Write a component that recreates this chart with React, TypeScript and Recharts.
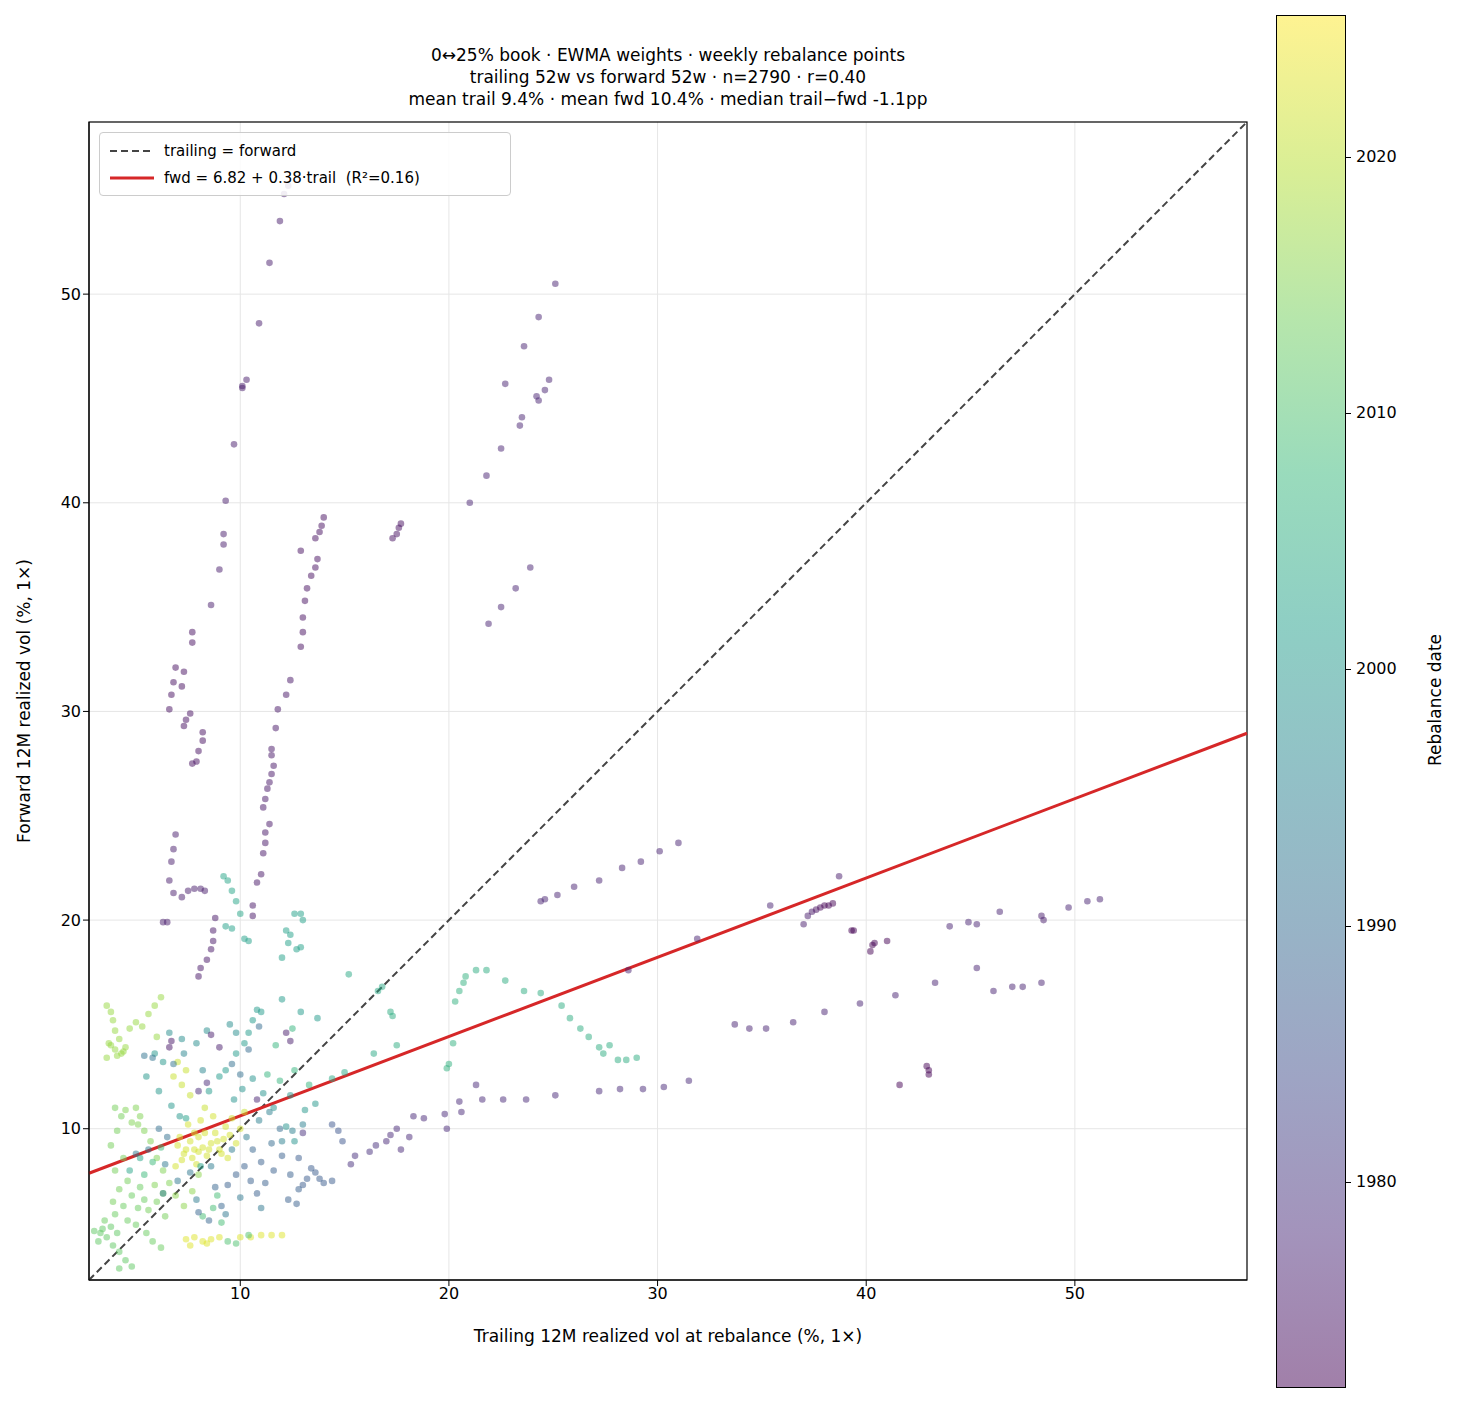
import React from "react";
import {
  ScatterChart,
  Scatter,
  XAxis,
  YAxis,
  CartesianGrid,
  ReferenceLine,
  Label,
} from "recharts";

// [trailing vol, forward vol, rebalance year]
const purpleStreaks: number[][] = [
  [6.3,19.9,1976],[6.5,19.9,1976],[6.6,21.9,1976],[6.7,22.8,1976],[6.8,23.4,1976],[6.9,24.1,1976],[6.8,21.3,1976],
  [6.6,30.1,1974],[6.7,30.8,1974],[6.8,31.4,1974],[6.9,32.1,1974],[7.2,31.2,1974],[7.3,31.9,1974],[7.4,29.6,1974],
  [7.3,29.3,1974],[7.6,29.9,1974],[7.7,33.3,1974],[7.7,33.8,1974],[7.2,21.1,1976],[7.5,21.4,1976],[7.8,21.5,1976],
  [8.1,21.5,1976],[8.3,21.4,1976],[7.9,27.6,1974],[7.7,27.5,1974],[8.0,28.1,1974],[8.2,28.6,1974],[8.2,29.0,1974],
  [8.0,17.3,1975],[8.1,17.7,1975],[8.4,18.1,1975],[8.6,18.6,1975],[8.7,19.0,1975],[8.7,19.5,1975],[8.8,20.1,1975],
  [8.6,35.1,1976],[9.0,36.8,1976],[9.2,38.0,1976],[9.2,38.5,1976],[9.3,40.1,1976],[9.7,42.8,1976],[10.1,45.6,1976],
  [10.3,45.9,1976],[10.1,45.5,1976],[10.9,48.6,1976],[11.4,51.5,1976],[11.9,53.5,1976],[12.1,54.8,1976],[12.3,55.2,1976],
  [10.6,20.2,1975],[10.6,20.7,1975],[10.8,21.8,1975],[11.0,22.2,1975],[11.1,23.2,1975],[11.2,23.7,1975],[11.2,24.2,1975],
  [11.4,24.6,1975],[11.1,25.4,1975],[11.2,25.8,1975],[11.3,26.3,1975],[11.4,26.6,1975],[11.5,27.0,1975],[11.6,27.4,1975],
  [11.5,27.9,1975],[11.5,28.2,1975],[11.7,29.2,1975],[11.8,30.1,1975],[12.2,30.8,1975],[12.4,31.5,1975],[12.9,33.1,1974],
  [13.0,33.8,1974],[13.0,34.5,1974],[13.1,35.3,1974],[13.2,35.9,1974],[13.4,36.5,1974],[13.6,36.9,1974],[13.7,37.3,1974],
  [12.9,37.7,1974],[13.6,38.3,1974],[13.8,38.6,1974],[13.9,38.9,1974],[14.0,39.3,1974],[17.3,38.3,1974],[17.5,38.5,1974],
  [17.6,38.8,1974],[17.7,39.0,1974],
];

const upperRight: number[][] = [
  [21.0,40.0,1977],[21.8,41.3,1977],[22.5,42.6,1977],[22.7,45.7,1977],[23.4,43.7,1977],[23.5,44.1,1977],[23.6,47.5,1977],
  [24.2,45.1,1977],[24.3,44.9,1977],[24.3,48.9,1977],[24.6,45.4,1977],[24.8,45.9,1977],[25.1,50.5,1977],[21.9,34.2,1977],
  [22.5,35.0,1977],[23.2,35.9,1977],[23.9,36.9,1977],[24.4,20.9,1977],[24.6,21.0,1977],[25.2,21.2,1977],[26.0,21.6,1977],
  [27.2,21.9,1977],[28.3,22.5,1977],[29.2,22.8,1977],[30.1,23.3,1977],[31.0,23.7,1977],[31.9,19.1,1977],[28.6,17.6,1977],
];

const rightCluster: number[][] = [
  [35.4,20.7,1977],[37.0,19.8,1976],[37.2,20.2,1976],[37.4,20.4,1975],[37.6,20.5,1974],[37.8,20.6,1973],[38.0,20.7,1972],
  [38.2,20.7,1972],[38.4,20.8,1972],[38.7,22.1,1976],[39.3,19.5,1972],[39.4,19.5,1972],[40.2,18.5,1972],[40.3,18.8,1972],
  [40.4,18.9,1972],[41.0,19.0,1972],[39.7,16.0,1977],[41.4,16.4,1977],[43.3,17.0,1977],[44.0,19.7,1977],[44.9,19.9,1977],
  [45.3,19.8,1977],[45.3,17.7,1977],[46.4,20.4,1977],[46.1,16.6,1977],[47.0,16.8,1977],[47.5,16.8,1977],[48.4,17.0,1977],
  [48.4,20.2,1976],[48.5,20.0,1976],[49.7,20.6,1977],[50.6,20.9,1977],[51.2,21.0,1977],[33.7,15.0,1977],[34.4,14.8,1977],
  [35.2,14.8,1977],[36.5,15.1,1977],[38.0,15.6,1977],[41.6,12.1,1972],[42.9,13.0,1972],[43.0,12.8,1972],[43.0,12.6,1972],
];

const lowerMid: number[][] = [
  [17.0,9.4,1978],[17.2,9.7,1978],[17.5,10.0,1978],[17.7,9.0,1978],[18.1,9.6,1978],[18.3,10.6,1978],[18.8,10.5,1978],
  [19.8,10.7,1978],[19.9,10.0,1978],[20.5,11.3,1978],[20.6,10.8,1978],[21.3,12.1,1978],[21.6,11.4,1978],[22.6,11.4,1978],
  [23.7,11.4,1978],[25.1,11.6,1978],[27.2,11.8,1978],[28.2,11.9,1978],[29.3,11.9,1978],[30.3,12.0,1978],[31.5,12.3,1978],
  [16.2,8.9,1979],[16.5,9.2,1979],[15.3,8.3,1979],[15.5,8.7,1979],
];

const tealStreaks: number[][] = [
  [15.2,17.4,2004],[16.6,16.6,2004],[16.8,16.8,2004],[17.2,15.6,2005],[17.3,15.4,2005],[17.5,14.0,2005],[19.9,12.9,2006],
  [20.0,13.1,2006],[20.2,14.1,2006],[20.3,16.1,2006],[20.5,16.6,2006],[20.7,17.0,2006],[20.8,17.3,2006],[21.3,17.6,2005],
  [21.8,17.6,2005],[22.7,17.1,2005],[23.6,16.6,2005],[24.4,16.5,2005],[25.4,15.9,2005],[25.8,15.3,2005],[26.3,14.8,2005],
  [26.7,14.4,2005],[27.2,13.9,2005],[27.4,13.6,2005],[27.7,14.0,2005],[28.1,13.3,2005],[28.5,13.3,2005],[29.0,13.4,2005],
  [16.4,13.6,2004],[15.0,12.7,2004],[14.4,12.4,2004],
  [9.2,22.1,2003],[9.4,21.9,2003],[9.6,21.4,2003],[9.8,20.9,2003],[10.0,20.3,2003],[9.3,19.7,2002],[9.6,19.6,2002],
  [10.2,19.1,2002],[10.4,19.0,2002],[12.0,18.2,2002],[12.3,18.9,2002],[12.4,19.3,2002],[12.6,20.3,2002],[12.9,20.3,2002],
  [12.7,18.6,2002],[12.9,18.7,2002],[12.2,19.5,2002],[13.0,20.0,2002],
];

const denseCluster: number[][] = [
  // yellow, recent
  [7.0,9.2,2022],[7.3,8.8,2022],[7.6,9.4,2022],[7.8,9.0,2022],[8.0,9.6,2022],[8.2,9.1,2022],[8.4,8.7,2022],[8.6,9.3,2022],
  [8.8,9.8,2022],[9.0,9.0,2022],[9.2,9.5,2022],[9.4,8.6,2022],[7.5,10.2,2022],[8.1,10.4,2022],[8.7,10.6,2022],[9.3,10.1,2022],
  [9.8,9.3,2022],[10.0,10.0,2022],[7.2,12.1,2021],[7.4,12.8,2021],[7.0,13.2,2021],[6.8,12.5,2021],[7.6,11.6,2021],
  [8.3,11.0,2021],[6.9,8.2,2022],[7.9,8.3,2022],[7.1,9.6,2022],[7.4,9.0,2022],[7.7,8.6,2022],[8.3,9.8,2022],[8.5,9.0,2022],
  [8.9,9.4,2022],[9.1,8.8,2022],[9.5,9.7,2022],[7.8,9.8,2022],[8.0,8.9,2022],[7.2,8.5,2022],[9.6,10.5,2021],[10.2,10.8,2021],
  [7.4,4.7,2023],[7.8,4.8,2023],[8.2,4.6,2023],[8.6,4.7,2023],[9.0,4.8,2023],[10.0,4.8,2023],[10.5,4.8,2023],[11.0,4.9,2023],
  [11.5,4.9,2023],[12.0,4.9,2023],[7.6,4.4,2023],[8.4,4.5,2023],
  // yellow-green
  [3.6,15.9,2017],[3.8,15.6,2017],[3.9,15.2,2017],[4.0,14.7,2017],[4.2,14.3,2017],[3.7,14.1,2017],[4.0,13.8,2017],
  [4.3,13.6,2017],[4.5,13.9,2017],[4.7,14.8,2017],[5.0,15.1,2017],[5.3,14.9,2017],[5.6,15.5,2017],[5.9,15.9,2017],
  [6.2,16.3,2017],[6.0,14.4,2017],[3.6,13.4,2017],[3.8,14.0,2017],[4.1,13.5,2017],[4.4,13.7,2017],
  // light green
  [3.0,5.1,2012],[3.3,5.0,2012],[3.6,4.8,2012],[3.9,4.4,2012],[4.2,4.1,2012],[4.5,3.7,2012],[4.8,3.4,2012],[4.2,3.3,2012],
  [3.5,5.6,2013],[4.0,5.9,2013],[4.4,6.3,2013],[4.8,6.8,2013],[5.2,7.2,2013],[5.0,5.4,2013],[5.5,5.0,2013],[5.8,4.6,2013],
  [6.2,4.3,2013],[4.6,7.5,2014],[4.0,8.0,2014],[4.4,8.6,2014],[3.8,9.2,2014],[4.1,9.9,2014],[4.3,10.6,2014],[4.0,11.0,2014],
  [4.8,10.3,2015],[5.0,11.0,2015],[5.2,10.6,2015],[5.4,9.9,2015],[5.7,9.4,2015],[6.0,8.6,2015],[6.3,8.0,2015],[6.6,7.4,2015],
  [6.9,6.8,2016],[7.3,6.3,2016],[7.7,7.0,2016],[8.0,7.8,2016],[5.6,6.1,2014],[6.0,6.5,2014],[6.4,5.8,2014],[3.2,4.6,2012],
  [3.4,5.2,2012],[3.8,5.3,2012],[4.1,5.0,2012],[4.6,5.6,2013],[5.1,6.2,2013],[5.4,6.6,2013],[4.5,10.9,2015],[5.1,10.2,2015],
  [4.2,7.1,2014],[3.9,6.5,2014],[5.9,7.3,2015],[6.3,6.9,2015],
  // green
  [8.2,5.8,2009],[8.7,6.2,2009],[9.1,5.5,2009],[9.4,4.6,2010],[9.8,4.5,2010],[10.4,4.9,2010],[8.9,6.8,2009],[5.4,7.8,2008],
  [5.8,8.4,2008],[6.2,9.1,2008],[11.3,12.6,2007],[11.9,12.3,2007],[12.6,12.8,2007],[13.3,12.1,2007],[11.7,14.0,2007],
  [12.5,14.8,2007],
  // teal
  [5.9,13.6,2000],[6.3,13.2,2000],[5.5,12.5,2000],[6.1,11.8,2000],[6.7,11.1,2000],[7.1,10.6,2000],[8.5,11.8,2001],
  [9.0,12.5,2001],[9.3,12.8,2001],[9.8,13.6,2001],[10.2,14.1,2001],[10.4,14.6,2001],[10.6,15.2,2001],[10.8,15.7,2001],
  [11.0,15.6,2001],[12.0,16.2,2001],[12.9,15.6,2001],[13.7,15.3,2001],[9.7,11.4,1999],[10.1,11.9,1999],[10.6,12.4,1999],
  [11.1,11.7,1999],[11.6,11.0,1999],[12.2,10.1,1999],[12.6,9.4,1999],[5.2,8.6,2003],[4.7,8.0,2003],[6.6,14.6,1998],
  [7.2,14.3,1998],[7.9,14.1,1998],[8.4,14.7,1998],[9.5,15.0,1998],[9.8,14.6,1998],[7.4,10.5,2002],[8.1,8.2,2002],
  [12.4,11.6,2000],[13.1,10.9,2000],[13.6,11.2,2000],
  // dark blue
  [9.4,7.3,1988],[9.8,7.8,1988],[10.2,8.2,1988],[10.5,7.5,1988],[10.8,6.9,1988],[11.2,7.4,1988],[11.6,8.0,1988],
  [12.0,8.7,1988],[12.4,7.8,1988],[12.8,7.1,1988],[13.2,7.6,1987],[13.6,7.9,1987],[14.0,7.4,1987],[14.4,7.5,1987],
  [14.4,10.2,1986],[14.7,9.9,1986],[14.9,9.4,1986],[8.8,7.2,1989],[9.1,6.3,1989],[8.5,5.6,1989],[8.0,6.0,1989],
  [12.3,6.6,1988],[12.7,6.4,1988],[11.5,9.3,1990],[11.9,10.0,1990],[10.0,12.6,1991],[9.6,13.1,1991],[5.8,13.4,1992],
  [5.4,13.5,1992],[6.8,13.1,1992],[6.1,10.0,1991],[6.5,9.6,1991],[10.4,13.8,1990],[10.9,14.9,1990],[12.8,8.6,1987],
  [13.4,8.1,1987],[13.0,7.3,1987],[13.8,7.6,1987],[11.0,8.4,1988],[10.6,9.0,1989],
  // blue
  [5.0,8.8,1993],[5.6,9.0,1993],[6.4,8.3,1993],[7.0,7.5,1993],[7.6,7.9,1993],[8.6,8.2,1994],[9.6,9.0,1994],[10.3,9.6,1994],
  [10.9,10.4,1995],[11.4,10.8,1995],[12.0,9.4,1995],[12.5,9.9,1995],[13.0,10.2,1995],[7.3,13.6,1996],[8.2,12.8,1996],
  [6.3,6.9,1994],[7.9,6.6,1994],[9.3,5.9,1993],[10.0,6.7,1993],[11.0,6.2,1993],
  // purple in cluster
  [6.6,13.9,1975],[6.7,14.2,1975],[8.6,14.5,1976],[9.0,13.9,1976],[10.8,11.4,1977],[12.2,14.6,1976],[12.4,14.2,1976],
  [13.0,9.8,1979],[8.0,11.8,1978],[8.4,12.2,1978],
];

const allPoints = [...purpleStreaks, ...upperRight, ...rightCluster, ...lowerMid, ...tealStreaks, ...denseCluster].map(
  ([x, y, year]) => ({ x, y, year })
);

const axisTicks = [10, 20, 30, 40, 50];
const yearTicks = [1980, 1990, 2000, 2010, 2020];
const titleLines = [
  "0↔25% book · EWMA weights · weekly rebalance points",
  "trailing 52w vs forward 52w · n=2790 · r=0.40",
  "mean trail 9.4% · mean fwd 10.4% · median trail−fwd -1.1pp",
];

const DOMAIN: [number, number] = [2.75, 58.25];
const YEAR_MIN = 1972.04;
const YEAR_MAX = 2025.54;
const fitA = 6.82;
const fitB = 0.38;

const VIRIDIS = [
  [68, 1, 84], [72, 40, 120], [62, 73, 137], [49, 104, 142], [38, 130, 142],
  [31, 158, 137], [53, 183, 121], [109, 205, 89], [180, 222, 44], [253, 231, 37],
];

function viridis(t: number) {
  const c = Math.max(0, Math.min(1, t)) * (VIRIDIS.length - 1);
  const i = Math.min(VIRIDIS.length - 2, Math.floor(c));
  const f = c - i;
  const a = VIRIDIS[i];
  const b = VIRIDIS[i + 1];
  return `rgb(${a.map((v, k) => Math.round(v + (b[k] - v) * f)).join(",")})`;
}

const yearColor = (year: number) => viridis((year - YEAR_MIN) / (YEAR_MAX - YEAR_MIN));

const Dot = (props: any) => {
  const { cx, cy, payload } = props;
  return <circle cx={cx} cy={cy} r={3.3} fill={yearColor(payload.year)} fillOpacity={0.5} />;
};

const font = "DejaVu Sans, sans-serif";

export default function App() {
  const cbTop = 15;
  const cbHeight = 1371;
  const gradient = `linear-gradient(to top, ${VIRIDIS.map((c, i) => `rgba(${c.join(",")},0.5) ${(i / (VIRIDIS.length - 1)) * 100}%`).join(", ")})`;
  return (
    <div style={{ position: "absolute", left: 0, top: 0, width: 1462, height: 1403, background: "#fff", fontFamily: font }}>
      <div style={{ position: "absolute", left: 89, width: 1158, top: 44, textAlign: "center", fontSize: 17, lineHeight: "22px", color: "#000" }}>
        {titleLines.map((l) => (
          <div key={l}>{l}</div>
        ))}
      </div>
      <ScatterChart width={1262} height={1403} margin={{ top: 122, right: 15, left: 39, bottom: 83 }}>
        <CartesianGrid stroke="#e6e6e6" horizontalValues={axisTicks} verticalValues={axisTicks} />
        <XAxis
          type="number"
          dataKey="x"
          domain={DOMAIN}
          ticks={axisTicks}
          allowDataOverflow
          height={40}
          tick={{ fontSize: 16, fill: "#000", fontFamily: font }}
          tickSize={6}
          stroke="#000"
        >
          <Label value="Trailing 12M realized vol at rebalance (%, 1×)" position="insideBottom" offset={-22} style={{ fontSize: 17, fill: "#000", fontFamily: font }} />
        </XAxis>
        <YAxis
          type="number"
          dataKey="y"
          domain={DOMAIN}
          ticks={axisTicks}
          allowDataOverflow
          width={50}
          tick={{ fontSize: 16, fill: "#000", fontFamily: font }}
          tickSize={6}
          stroke="#000"
        />
        <Scatter data={allPoints} shape={Dot} isAnimationActive={false} />
        <ReferenceLine
          segment={[{ x: DOMAIN[0], y: DOMAIN[0] }, { x: DOMAIN[1], y: DOMAIN[1] }]}
          stroke="#444"
          strokeWidth={2}
          strokeDasharray="7 4"
        />
        <ReferenceLine
          segment={[{ x: DOMAIN[0], y: fitA + fitB * DOMAIN[0] }, { x: DOMAIN[1], y: fitA + fitB * DOMAIN[1] }]}
          stroke="#d62728"
          strokeWidth={3}
        />
        <rect x={89} y={122} width={1158} height={1158} fill="none" stroke="#000" strokeWidth={1.2} />
      </ScatterChart>
      <div style={{ position: "absolute", left: 24, top: 701, transform: "translate(-50%, -50%) rotate(-90deg)", fontSize: 17, whiteSpace: "nowrap" }}>
        Forward 12M realized vol (%, 1×)
      </div>
      <div style={{ position: "absolute", left: 99, top: 132, width: 410, height: 62, border: "1px solid #ccc", borderRadius: 4, background: "rgba(255,255,255,0.85)", fontSize: 15 }}>
        <div style={{ position: "absolute", left: 10, top: 9, display: "flex", alignItems: "center" }}>
          <svg width={44} height={6}><line x1={0} y1={3} x2={44} y2={3} stroke="#444" strokeWidth={2} strokeDasharray="7 4" /></svg>
          <span style={{ marginLeft: 10 }}>trailing = forward</span>
        </div>
        <div style={{ position: "absolute", left: 10, top: 36, display: "flex", alignItems: "center" }}>
          <svg width={44} height={6}><line x1={0} y1={3} x2={44} y2={3} stroke="#d62728" strokeWidth={3} /></svg>
          <span style={{ marginLeft: 10, whiteSpace: "pre" }}>fwd = 6.82 + 0.38·trail  (R²=0.16)</span>
        </div>
      </div>
      <div style={{ position: "absolute", left: 1276, top: cbTop, width: 68, height: cbHeight, background: gradient, border: "1px solid #000" }} />
      {yearTicks.map((yr) => {
        const y = cbTop + ((YEAR_MAX - yr) / (YEAR_MAX - YEAR_MIN)) * cbHeight;
        return (
          <React.Fragment key={yr}>
            <div style={{ position: "absolute", left: 1345, top: y, width: 6, height: 1, background: "#000" }} />
            <div style={{ position: "absolute", left: 1356, top: y - 10, fontSize: 16 }}>{yr}</div>
          </React.Fragment>
        );
      })}
      <div style={{ position: "absolute", left: 1435, top: 700, transform: "translate(-50%, -50%) rotate(-90deg)", fontSize: 17, whiteSpace: "nowrap" }}>
        Rebalance date
      </div>
    </div>
  );
}
